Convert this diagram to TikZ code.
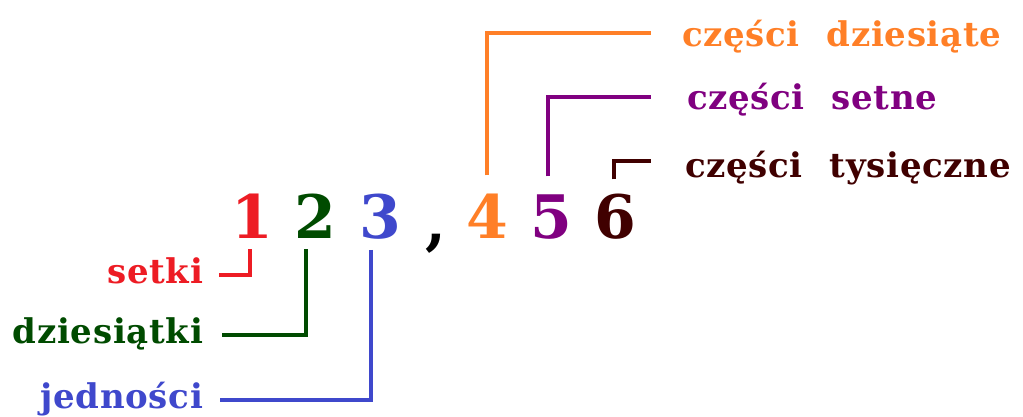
\documentclass[tikz,border=0pt]{standalone}
\usepackage{fontspec}
\setmainfont{DejaVu Serif}
\newfontfamily\placefont[LetterSpace=2]{DejaVu Serif}
\usepackage{tikz}
\usetikzlibrary{arrows}

\definecolor{setred}{HTML}{ED1C24}
\definecolor{tengreen}{HTML}{004B00}
\definecolor{oneblue}{HTML}{3F48CC}
\definecolor{tenthorange}{HTML}{FF7F27}
\definecolor{hundredthpurple}{HTML}{800080}
\definecolor{thousandthbrown}{HTML}{400000}

\newcommand{\wordgap}{\hspace{27pt}}

\begin{document}
\begin{tikzpicture}[x=1pt,y=-1pt,line width=4pt,
  digit/.style={font=\fontsize{60}{60}\selectfont\bfseries,inner sep=0pt,anchor=base},
  place/.style={font=\placefont\fontsize{34}{34}\selectfont\bfseries,inner sep=0pt,text height=17pt,text depth=0pt}]
  \useasboundingbox (0,0) rectangle (1023,417);

  % the number
  \node[digit,text=setred] (1) at (252,238) {1};
  \node[digit,text=tengreen] (2) at (315,238) {2};
  \node[digit,text=oneblue] (3) at (380,238) {3};
  \node[digit] (comma) at (436,243) {,};
  \node[digit,text=tenthorange] (4) at (487,238) {4};
  \node[digit,text=hundredthpurple] (5) at (551,238) {5};
  \node[digit,text=thousandthbrown] (6) at (615,238) {6};

  % names of the places
  \node[place,anchor=base east,text=setred] (setki) at (205,283) {setki};
  \node[place,anchor=base east,text=tengreen] (dziesiatki) at (205,343) {dziesiątki};
  \node[place,anchor=base east,text=oneblue] (jednosci) at (205,408) {jedności};
  \node[place,anchor=base west,text=tenthorange] (dziesiate) at (680,47) {części\wordgap dziesiąte};
  \node[place,anchor=base west,text=hundredthpurple] (setne) at (685,110) {części\wordgap setne};
  \node[place,anchor=base west,text=thousandthbrown] (tysieczne) at (683,178) {części\wordgap tysięczne};

  % connectors
  \draw[setred,shorten <=9pt,shorten >=14pt] ([xshift=-2pt]1.south) |- (setki.east);
  \draw[tengreen,shorten <=9pt,shorten >=17pt] ([xshift=-9pt]2.south) |- (dziesiatki.east);
  \draw[oneblue,shorten <=9pt,shorten >=15pt] ([xshift=-9pt]3.south) |- (jednosci.east);
  \draw[tenthorange,shorten <=16pt,shorten >=29pt] (4.north) |- ([yshift=5.5pt]dziesiate.west);
  \draw[hundredthpurple,shorten <=16pt,shorten >=34pt] ([xshift=-3pt]5.north) |- ([yshift=4pt]setne.west);
  \draw[thousandthbrown,shorten <=12pt,shorten >=32pt] ([xshift=-1pt]6.north) |- ([yshift=8.5pt]tysieczne.west);
\end{tikzpicture}
\end{document}
